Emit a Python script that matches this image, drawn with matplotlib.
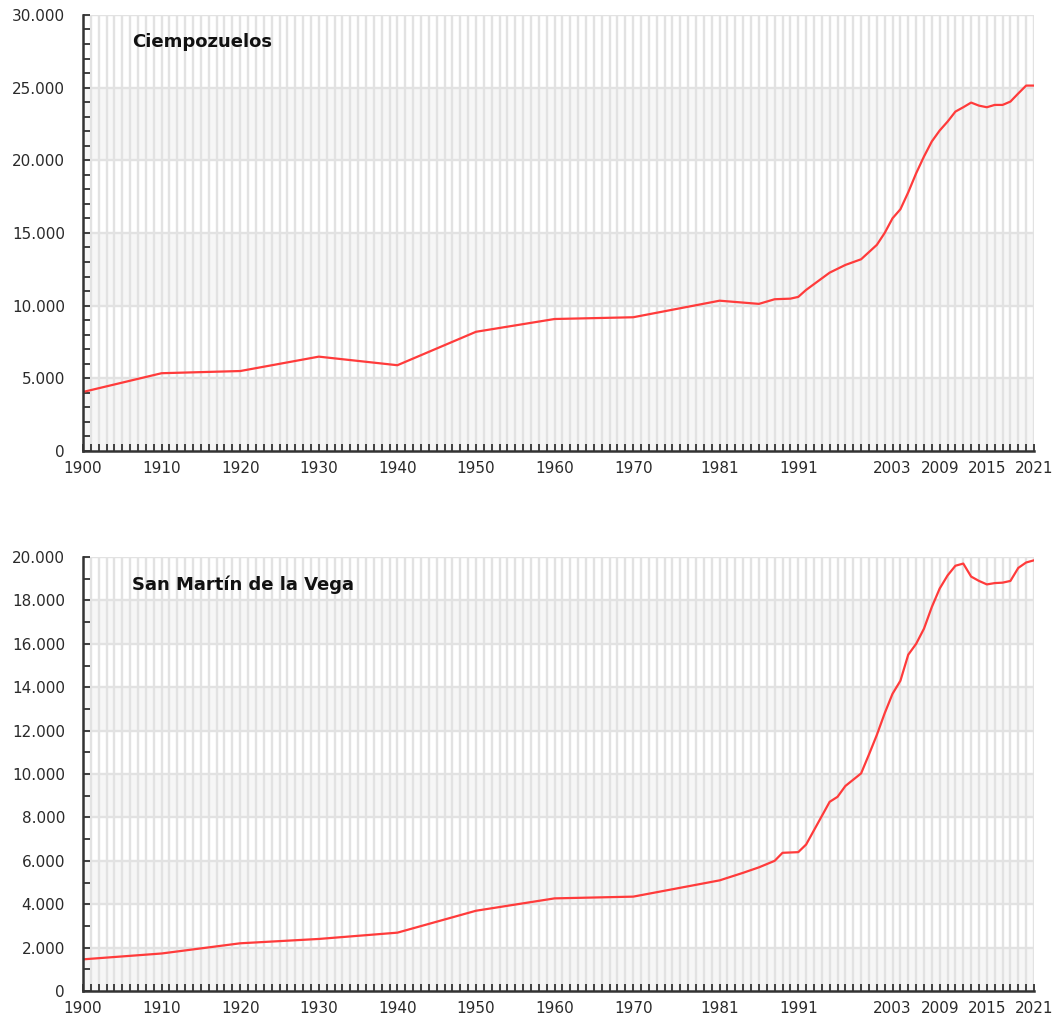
import matplotlib.pyplot as plt
from matplotlib.ticker import FuncFormatter, MultipleLocator

plt.rcParams['font.family'] = ['DejaVu Sans']

# Population data
years_ciem = [1900, 1910, 1920, 1930, 1940, 1950, 1960, 1970, 1981, 1986, 1988, 1990, 1991,
              1992, 1995, 1997, 1999, 2001, 2002, 2003, 2004, 2005, 2006, 2007, 2008, 2009,
              2010, 2011, 2012, 2013, 2014, 2015, 2016, 2017, 2018, 2019, 2020, 2021]
pop_ciem = [4060, 5350, 5500, 6490, 5900, 8200, 9080, 9200, 10340, 10120, 10440, 10480, 10600,
            11080, 12270, 12800, 13190, 14180, 15000, 16010, 16630, 17800, 19100, 20260, 21300, 22050,
            22660, 23350, 23650, 23970, 23760, 23650, 23810, 23810, 24040, 24600, 25140, 25140]

years_smv = [1900, 1910, 1920, 1930, 1940, 1950, 1960, 1970, 1981, 1984, 1986, 1988, 1989,
             1991, 1992, 1995, 1996, 1997, 1999, 2000, 2001, 2002, 2003, 2004, 2005, 2006,
             2007, 2008, 2009, 2010, 2011, 2012, 2013, 2014, 2015, 2016, 2017, 2018, 2019, 2020, 2021]
pop_smv = [1460, 1730, 2200, 2400, 2690, 3700, 4270, 4350, 5100, 5450, 5700, 6000, 6370,
           6400, 6750, 8720, 8950, 9450, 10030, 10900, 11800, 12800, 13700, 14300, 15500, 16000,
           16700, 17700, 18550, 19150, 19600, 19700, 19100, 18900, 18740, 18800, 18820, 18900, 19500, 19750, 19850]

tick_years = [1900, 1910, 1920, 1930, 1940, 1950, 1960, 1970, 1981, 1991, 2003, 2009, 2015, 2021]

LINE = '#ff3b3b'
GRID = '#e2e2e2'
BAND = '#f6f6f6'
AXIS = '#333333'


def thousands(v, pos):
    return f'{int(v):,}'.replace(',', '.')


def draw(ax, years, pop, title, ymax, ystep, yminor):
    # alternating horizontal bands
    y = 0
    k = 0
    while y < ymax:
        if k % 2 == 0:
            ax.axhspan(y, y + ystep, color=BAND, zorder=0, lw=0)
        y += ystep
        k += 1
    for yr in range(1900, 2022):
        ax.axvline(yr, color=GRID, lw=1.7, zorder=1)
    y = ystep
    while y <= ymax:
        ax.axhline(y, color=GRID, lw=1.7, zorder=1)
        y += ystep

    ax.plot(years, pop, color=LINE, lw=1.6, zorder=3)

    ax.set_xlim(1900, 2021)
    ax.set_ylim(0, ymax)
    ax.set_xticks(tick_years)
    ax.xaxis.set_minor_locator(MultipleLocator(1))
    ax.yaxis.set_major_locator(MultipleLocator(ystep))
    ax.yaxis.set_minor_locator(MultipleLocator(yminor))
    ax.yaxis.set_major_formatter(FuncFormatter(thousands))

    for s in ['top', 'right']:
        ax.spines[s].set_visible(False)
    for s in ['left', 'bottom']:
        ax.spines[s].set_color(AXIS)
        ax.spines[s].set_linewidth(1.8)
        ax.spines[s].set_zorder(4)
    ax.tick_params(which='both', direction='in', color=AXIS, width=1.3, length=5,
                   labelsize=11, labelcolor='#2a2a2a')
    ax.tick_params(axis='x', which='major', pad=7)
    ax.tick_params(axis='y', which='major', pad=13)

    ax.text(0.052, 0.937, title, transform=ax.transAxes, fontsize=13, fontweight='bold',
            color='#111111', va='center', ha='left', zorder=5)


fig = plt.figure(figsize=(10.59, 10.24), dpi=100)
ax1 = fig.add_axes([0.0784, 0.5596, 0.898, 0.4258])
ax2 = fig.add_axes([0.0784, 0.0322, 0.898, 0.4238])

draw(ax1, years_ciem, pop_ciem, 'Ciempozuelos', 30000, 5000, 1000)
draw(ax2, years_smv, pop_smv, 'San Martín de la Vega', 20000, 2000, 1000)

plt.savefig('out.png', dpi=100)
